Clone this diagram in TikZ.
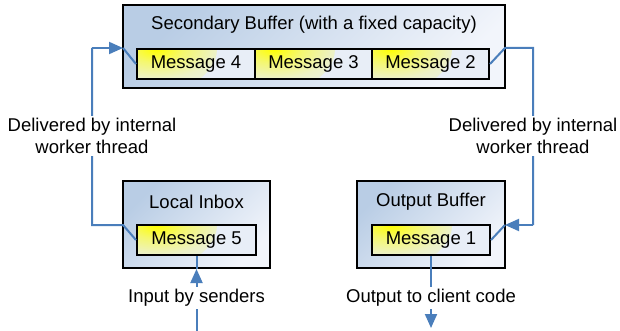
\documentclass[tikz,border=0pt]{standalone}
\usepackage{fontspec}
\setmainfont{Liberation Sans}
\usetikzlibrary{arrows.meta}
\definecolor{linkblue}{RGB}{74,126,187}
\definecolor{boxtop}{RGB}{185,205,229}
\definecolor{boxbot}{RGB}{242,245,251}
\definecolor{msgtop}{RGB}{255,255,0}
\definecolor{msgbot}{RGB}{232,238,247}
\colorlet{msgmid}{msgtop!55!msgbot}
\colorlet{msglow}{msgtop!20!msgbot}
% soft yellow glow used in the message cells
\pgfdeclareradialshading{msgglow}{\pgfpoint{0bp}{0bp}}{%
  color(0bp)=(msgtop); color(7bp)=(msgmid); color(15bp)=(msglow);
  color(25bp)=(msgbot); color(50bp)=(msgbot)}

\begin{document}
\begin{tikzpicture}[x=1pt,y=-1pt,
  font=\fontsize{18.5}{22}\selectfont,
  buffer/.style={draw=black, line width=2pt, inner sep=0pt,
    top color=boxtop, bottom color=boxbot, shading angle=45},
  msg/.style={draw=black, line width=2pt, minimum height=30pt, inner sep=0pt,
    fill=msgbot,
    path picture={\shade[shading=msgglow]
      (path picture bounding box.north west) ellipse (80pt and 48pt);}},
  conn/.style={draw=linkblue, line width=2pt},
  tip/.style={-{Triangle[length=14pt,width=12pt]}},
  caption/.style={fill=white, inner sep=2pt, align=center}
]
\useasboundingbox (0,0) rectangle (620,331);

% buffers
\node[buffer, minimum width=382pt, minimum height=83pt] (sec) at (314,46.5) {};
\node (sectitle) at (314,25) {Secondary Buffer (with a fixed capacity)};
\node[buffer, minimum width=147pt, minimum height=87pt] (inbox) at (196.5,224.5) {};
\node (inboxtitle) at (196.5,202) {Local Inbox};
\node[buffer, minimum width=148pt, minimum height=87pt] (outbuf) at (431,224.5) {};
\node (outtitle) at (431,202) {Output Buffer};

% messages
\node[msg, minimum width=118pt] (m4) at (196,64) {Message 4};
\node[msg, minimum width=117pt] (m3) at (313.5,64) {Message 3};
\node[msg, minimum width=117pt] (m2) at (430.5,64) {Message 2};
\node[msg, minimum width=119pt] (m5) at (196.5,240) {Message 5};
\node[msg, minimum width=118pt] (m1) at (431,240) {Message 1};

% left path: inbox -> secondary buffer
\coordinate (lin) at (123,225);
\coordinate (lbend) at (92,225);
\coordinate (ltop) at (92,48);
\coordinate (lsec) at (123,48);
\draw[conn] (m5.west) -- (lin) -- (lbend) -- (ltop);
\draw[conn,tip] (ltop) -- (lsec);
\draw[conn] (lsec) -- (m4.west);

% right path: secondary buffer -> output buffer
\coordinate (rsec) at (505,48);
\coordinate (rtop) at (533,48);
\coordinate (rbend) at (533,225);
\coordinate (rout) at (505,225);
\draw[conn] (m2.east) -- (rsec) -- (rtop) -- (rbend);
\draw[conn,tip] (rbend) -- (rout);
\draw[conn] (rout) -- (m1.east);

% input and output
\coordinate (inbot) at (196.5,331);
\draw[conn] (m5.south) -- (inbox.south);
\draw[conn,tip] (inbot) -- (inbox.south);
\coordinate (outbot) at (431,328);
\draw[conn,tip] (m1.south) -- (outbot);

% captions
\node[caption] (lcap) at (92,136) {Delivered by internal\\worker thread};
\node[caption] (rcap) at (533,136) {Delivered by internal\\worker thread};
\node[caption] (incap) at (196.5,298) {Input by senders};
\node[caption] (outcap) at (431,298) {Output to client code};
\end{tikzpicture}
\end{document}
